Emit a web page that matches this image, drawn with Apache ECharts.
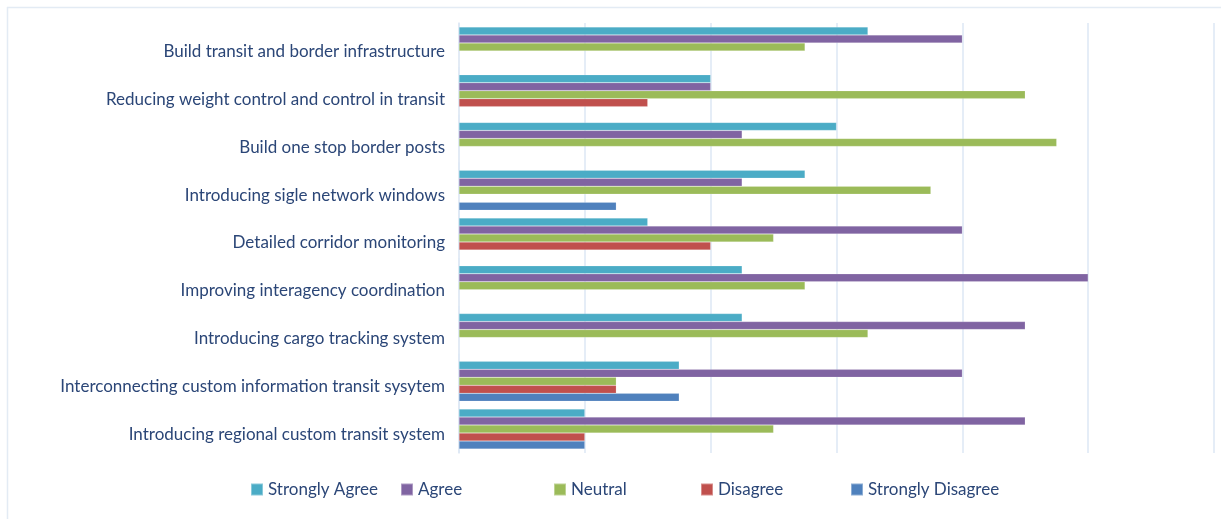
<!DOCTYPE html>
<html>
<head>
<meta charset="utf-8">
<script src="https://cdn.jsdelivr.net/npm/echarts@6/dist/echarts.min.js"></script>
<style>
  html, body { margin: 0; padding: 0; background: #ffffff; }
  #chart { width: 1221px; height: 519px; }
</style>
</head>
<body>
<div id="chart"></div>
<script>
// Survey measures, listed top to bottom
const categories = [
  'Build transit and border infrastructure',
  'Reducing weight control and control in transit',
  'Build one stop border posts',
  'Introducing sigle network windows',
  'Detailed corridor monitoring',
  'Improving interagency coordination',
  'Introducing cargo tracking system',
  'Interconnecting custom information transit sysytem',
  'Introducing regional custom transit system'
];

const seriesNames = ['Strongly Agree', 'Agree', 'Neutral', 'Disagree', 'Strongly Disagree'];

// Response counts per measure (same order as categories)
const stronglyAgree    = [13, 8, 12, 11, 6, 9, 9, 7, 4];
const agree            = [16, 8, 9, 9, 16, 20, 18, 16, 18];
const neutral          = [11, 18, 19, 15, 10, 11, 13, 5, 10];
const disagree         = [0, 6, 0, 0, 8, 0, 0, 5, 4];
const stronglyDisagree = [0, 0, 0, 5, 0, 0, 0, 7, 4];

const seriesValues = [stronglyAgree, agree, neutral, disagree, stronglyDisagree];
const colors = ['#4BACC6', '#8064A2', '#9BBB59', '#C0504D', '#4F81BD'];

const textColor = '#2B4677';
const fontFamily = 'Lato, "Noto Sans", sans-serif';
const legendLefts = [250, 400, 553, 700, 850];

const chart = echarts.init(document.getElementById('chart'), null, { renderer: 'canvas' });

chart.setOption({
  animation: false,
  backgroundColor: '#ffffff',
  color: colors,
  graphic: [
    { type: 'line', shape: { x1: 7, y1: 7.5, x2: 1221, y2: 7.5 }, style: { stroke: '#E3EBF4', lineWidth: 1.5 } },
    { type: 'line', shape: { x1: 7.5, y1: 7, x2: 7.5, y2: 519 }, style: { stroke: '#E3EBF4', lineWidth: 1.5 } }
  ],
  legend: seriesNames.map((name, i) => ({
    data: [name],
    left: legendLefts[i],
    top: 481,
    padding: 0,
    icon: 'rect',
    itemWidth: 12,
    itemHeight: 12,
    itemGap: 6,
    textStyle: { color: textColor, fontSize: 17, fontFamily: fontFamily },
    selectedMode: false
  })),
  grid: { left: 459, right: 7, top: 23, bottom: 66, containLabel: false },
  xAxis: {
    type: 'value',
    min: 0,
    max: 24,
    interval: 4,
    axisLabel: { show: false },
    axisLine: { show: false },
    axisTick: { show: false },
    splitLine: { show: true, lineStyle: { color: '#DCE7F4', width: 1.5 } }
  },
  yAxis: {
    type: 'category',
    data: categories,
    inverse: true,
    axisTick: { show: false },
    axisLine: { show: true, lineStyle: { color: '#DCE7F4', width: 1.5 } },
    axisLabel: {
      color: textColor,
      fontSize: 17,
      fontFamily: fontFamily,
      margin: 14,
      verticalAlign: 'top',
      lineHeight: 10
    }
  },
  series: seriesNames.map((name, i) => ({
    name: name,
    type: 'bar',
    data: seriesValues[i],
    barWidth: 8,
    barGap: '0%',
    itemStyle: { color: colors[i], borderColor: 'rgba(255,255,255,0.35)', borderWidth: 0.5 }
  }))
});
</script>
</body>
</html>
